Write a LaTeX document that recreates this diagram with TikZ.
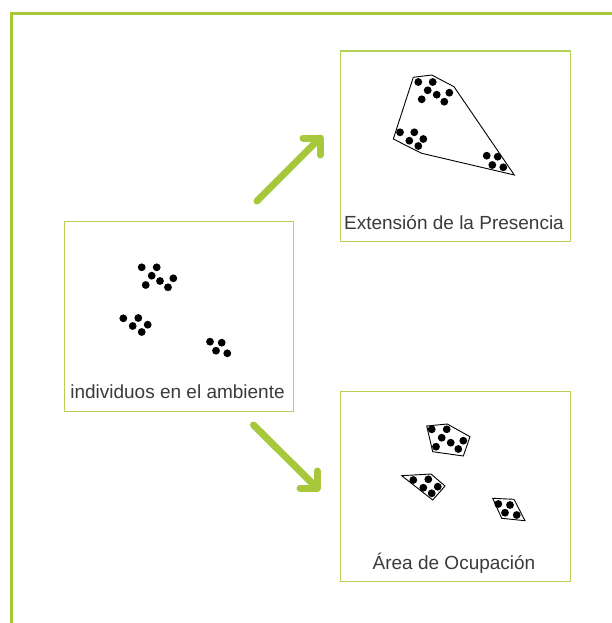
\documentclass[tikz,border=0pt]{standalone}
\usepackage{fontspec}
\setmainfont{Liberation Sans}
\begin{document}
\begin{tikzpicture}[x=1pt,y=-1pt]
\definecolor{lime}{HTML}{A6C83A}
\definecolor{txt}{HTML}{3A3A3A}
\tikzset{
  panel/.style={draw=lime!85, line width=1.3pt},
  frame/.style={draw=lime, line width=3pt},
  bigarrow/.style={draw=lime, line width=7pt, line cap=round, line join=round},
  lbl/.style={text=txt, font=\fontsize{19}{21}\selectfont, anchor=base, inner sep=0pt},
  dot/.style={fill=black},
  hull/.style={draw=black, line width=0.9pt, line join=miter},
}
\useasboundingbox (0,0) rectangle (612,623);
% outer frame (open to the right and bottom)
\draw[frame] (11,630) -- (11,14) -- (620,14);
% panels
\node[panel, minimum width=229pt, minimum height=190pt, inner sep=0pt, anchor=north west] (p1) at (63.5,220.5) {};
\node[panel, minimum width=230pt, minimum height=190pt, inner sep=0pt, anchor=north west] (p2) at (339.5,50.5) {};
\node[panel, minimum width=230pt, minimum height=190pt, inner sep=0pt, anchor=north west] (p3) at (339.5,390.5) {};
% labels
\node[lbl] (l1) at (177.5,398.5) {individuos en el ambiente};
\node[lbl] (l2) at (454,229.5) {Extensión de la Presencia};
\node[lbl] (l3) at (454,569.5) {Área de Ocupación};
% arrows
\coordinate (a1s) at (257,201);
\coordinate (a1e) at (320,138);
\coordinate (a2s) at (253.5,425);
\coordinate (a2e) at (317,488);
\draw[bigarrow] (a1s) -- (a1e);
\draw[bigarrow] (a1e) ++(-17,0) -- (a1e) -- ++(0,17);
\draw[bigarrow] (a2s) -- (a2e);
\draw[bigarrow] (a2e) ++(-17,0) -- (a2e) -- ++(0,-17);
% dots panel 1
\foreach \p in {(141.7,267.3),(156.7,267.3),(151.7,275.7),(160,281),(173.3,278.3),(145.7,285),(168,287.3),
  (123.3,318.3),(138.3,318),(132.7,326),(147.7,324.7),(141.7,332),
  (210,341.7),(221.7,342.7),(216,350.7),(227.3,353.3)}
  \fill[dot] \p circle (3.9pt);
% panel 2: hull + dots
\draw[hull] (413.3,77.3) -- (431.7,75) -- (454,86.7) -- (514.3,175) -- (421.7,153.3) -- (393.3,139) -- cycle;
\foreach \p in {(418.3,82),(432.7,82),(427.7,90.3),(436.7,94.7),(449.3,92.7),(421.7,99.3),(444.3,101.7),
  (400,132.3),(414.3,132.3),(409.3,140.7),(423.3,139),(418.3,146),
  (486.7,155.7),(497.7,156.7),(492.3,165),(503.3,167.3)}
  \fill[dot] \p circle (3.9pt);
% panel 3: hulls + dots
\draw[hull] (426.7,426) -- (447.3,424) -- (470,436.7) -- (463.3,456) -- (432.7,451.7) -- cycle;
\draw[hull] (401.7,475.7) -- (431,474) -- (445,486) -- (432.7,500) -- cycle;
\draw[hull] (492.7,498.3) -- (514,499.3) -- (525,520.7) -- (501.7,518.3) -- cycle;
\foreach \p in {(431.7,429.3),(446.7,429.3),(441.7,437.7),(450.7,442.7),(463.3,440.7),(436,446.7),(458.3,449),
  (413.3,480),(428.3,479.3),(423.3,487.7),(437.7,486.7),(431.7,493.3),
  (498.3,504),(510,505),(505,512.7),(516.7,515)}
  \fill[dot] \p circle (3.9pt);
\end{tikzpicture}
\end{document}
